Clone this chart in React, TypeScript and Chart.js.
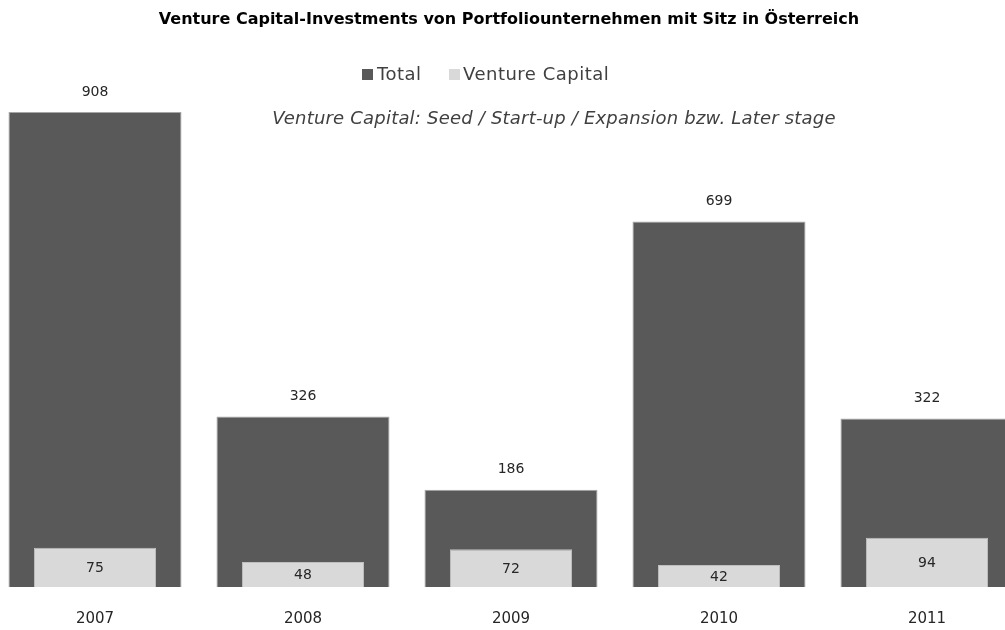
import React, { useEffect, useRef } from 'react';
import { Chart, registerables } from 'chart.js';

Chart.register(...registerables);

const categories = ['2007', '2008', '2009', '2010', '2011'];
const totalValues = [908, 326, 186, 699, 322];
const ventureValues = [75, 48, 72, 42, 94];
const seriesNames = ['Total', 'Venture Capital'];
const chartTitle = 'Venture Capital-Investments von Portfoliounternehmen mit Sitz in Österreich';
const subtitleText = 'Venture Capital: Seed / Start-up / Expansion bzw. Later stage';

const TOTAL_COLOR = '#595959';
const VC_COLOR = '#d9d9d9';
const TEXT_COLOR = '#262626';
const FONT = '"DejaVu Sans", "Noto Sans", sans-serif';
const SHIFT = 9; // canvas starts 9px left of the page

const overlayPlugin = {
  id: 'overlay',
  afterDatasetsDraw(chart: any) {
    const ctx = chart.ctx;
    ctx.save();
    (ctx as any).letterSpacing = '0px';
    ctx.fillStyle = TEXT_COLOR;
    ctx.font = `14px ${FONT}`;
    ctx.textAlign = 'center';
    ctx.textBaseline = 'middle';
    const totalMeta = chart.getDatasetMeta(0);
    const vcMeta = chart.getDatasetMeta(1);
    totalMeta.data.forEach((bar: any, i: number) => {
      ctx.fillText(String(totalValues[i]), bar.x, bar.y - 20);
    });
    vcMeta.data.forEach((bar: any, i: number) => {
      ctx.fillText(String(ventureValues[i]), bar.x, (bar.y + bar.base) / 2 + 1);
    });
    ctx.restore();
  },
  afterDraw(chart: any) {
    const ctx = chart.ctx;
    ctx.save();
    ctx.textBaseline = 'middle';
    // title
    ctx.fillStyle = '#000000';
    ctx.font = `bold 16px ${FONT}`;
    ctx.textAlign = 'center';
    ctx.fillText(chartTitle, 509 + SHIFT, 20);
    // legend
    ctx.font = `18px ${FONT}`;
    (ctx as any).letterSpacing = '0.5px';
    ctx.textAlign = 'left';
    ctx.fillStyle = TOTAL_COLOR;
    ctx.fillRect(362 + SHIFT, 69, 11, 11);
    ctx.fillStyle = '#404040';
    ctx.fillText(seriesNames[0], 377 + SHIFT, 75);
    ctx.fillStyle = VC_COLOR;
    ctx.fillRect(449 + SHIFT, 69, 11, 11);
    ctx.fillStyle = '#404040';
    ctx.fillText(seriesNames[1], 463 + SHIFT, 75);
    // subtitle
    ctx.font = `italic 18px ${FONT}`;
    (ctx as any).letterSpacing = '0.2px';
    ctx.textAlign = 'center';
    ctx.fillText(subtitleText, 554 + SHIFT, 119);
    ctx.restore();
  },
};

export default function App() {
  const canvasRef = useRef<HTMLCanvasElement | null>(null);

  useEffect(() => {
    if (!canvasRef.current) return;
    const chart = new Chart(canvasRef.current, {
      type: 'bar',
      data: {
        labels: categories,
        datasets: [
          {
            label: seriesNames[0],
            data: totalValues,
            backgroundColor: TOTAL_COLOR,
            borderColor: '#a6a6a6',
            borderWidth: 1,
            barPercentage: 0.832,
            categoryPercentage: 1,
            grouped: false,
            order: 2,
          },
          {
            label: seriesNames[1],
            data: ventureValues,
            backgroundColor: VC_COLOR,
            borderColor: '#bfbfbf',
            borderWidth: 1,
            barPercentage: 0.587,
            categoryPercentage: 1,
            grouped: false,
            order: 1,
          },
        ],
      },
      options: {
        animation: false,
        responsive: false,
        maintainAspectRatio: false,
        layout: { padding: { top: 64, bottom: 0, left: 0, right: 0 } },
        plugins: {
          legend: { display: false },
          tooltip: { enabled: false },
          title: { display: false },
        },
        scales: {
          x: {
            grid: { display: false, drawTicks: false },
            border: { display: false },
            ticks: {
              color: TEXT_COLOR,
              font: { family: FONT, size: 15 },
              padding: 23,
              maxRotation: 0,
            },
            afterFit(axis: any) {
              axis.height = 43;
            },
          },
          y: {
            display: false,
            min: 0,
            max: 1000,
          },
        },
      },
      plugins: [overlayPlugin],
    } as any);
    return () => chart.destroy();
  }, []);

  return (
    <div style={{ position: 'fixed', left: 0, top: 0, width: 1005, height: 630, overflow: 'hidden', background: '#ffffff' }}>
      <div style={{ position: 'absolute', left: -SHIFT, top: 0, width: 1040, height: 630 }}>
        <canvas ref={canvasRef} width={1040} height={630} style={{ width: 1040, height: 630 }} />
      </div>
    </div>
  );
}
